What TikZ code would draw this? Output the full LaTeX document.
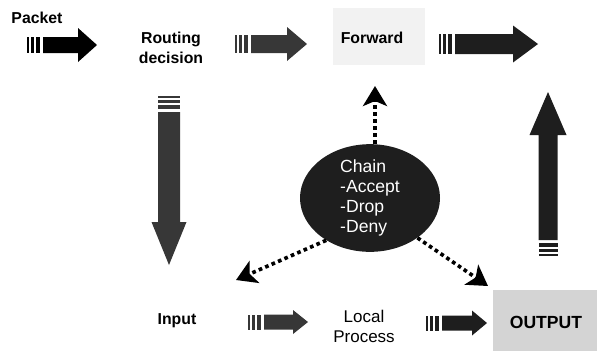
\documentclass[tikz,border=0pt]{standalone}
\usepackage{fontspec}
\setmainfont{Liberation Sans}
\usetikzlibrary{shapes.geometric,arrows.meta}

% fat block arrow with a striped tail: [colour]{start}{angle}{length}{head length}{body half}{head half}
\newcommand{\fatarrow}[7][black]{%
  \begin{scope}[shift={#2},rotate=#3]
    \fill[#1] (0,-#6) -- (#4-#5,-#6) -- (#4-#5,-#7) -- (#4,0) -- (#4-#5,#7) -- (#4-#5,#6) -- (0,#6) -- cycle;
    \foreach \a/\b in {-16/-14,-12/-9,-7/-3}
      \fill[#1] (\a,-#6) rectangle (\b,#6);
  \end{scope}}

\begin{document}
\begin{tikzpicture}[x=0.03cm,y=-0.03cm, lbl/.style={
                font=\bfseries\fontsize{13.5}{17}\selectfont,
                align=center,
                inner sep=0pt
              }, dotarrow/.style={
                line width=0.11cm,
                dash pattern=on 0.11cm off 0.1cm,
                -{Stealth[length=0.6cm,width=0.72cm,inset=0.15cm]}
              }]
    % Define colors
    \definecolor{darkgrain}{RGB}{30, 30, 30}
    \definecolor{midgrain}{RGB}{55, 55, 55}
    \definecolor{fwdback}{RGB}{242, 242, 242}
    \definecolor{outback}{RGB}{212, 212, 212}

    \useasboundingbox (0,0) rectangle (597,351);

    % shaded boxes behind the labels
    \fill[fwdback] (333,8) rectangle (425,65);
    \fill[outback] (493,290) rectangle (597,351);

    \node[lbl] (packet) at (37,18) {Packet};
    \node[lbl] (route) at (171,48) {Routing\\decision};
    \node[lbl] (fwd) at (372,38) {Forward};
    \node[lbl] (input) at (177,321) {Input};
    \node[align=center, inner sep=0pt, font=\fontsize{14.5}{17}\selectfont] (local) at (364,326) {Local\\Process};
    \node[lbl, font=\bfseries\fontsize{15}{17}\selectfont] (output) at (546,322) {OUTPUT};

    % block arrows
    \fatarrow{(43,45)}{0}{54}{19}{8}{17}
    \fatarrow[midgrain]{(251,44)}{0}{56}{20}{9}{17}
    \fatarrow[darkgrain]{(455,44)}{0}{83}{25}{10}{18.5}
    \fatarrow[midgrain]{(169,112)}{-90}{153}{43}{11}{17.5}
    \fatarrow[darkgrain]{(548,240)}{90}{148}{43}{9.5}{18.5}
    \fatarrow[midgrain]{(264,322)}{0}{44}{15}{7.5}{12}
    \fatarrow[darkgrain]{(442,323)}{0}{45}{15}{7.5}{12.5}

    \node[ellipse, fill=darkgrain, text=white, minimum width=4.2cm, minimum height=2.7cm,
          inner sep=0pt, align=left, font=\fontsize{15}{17}\selectfont] (chain) at (370,198)
          {Chain\\-Accept\\-Drop\\-Deny};

    \coordinate (fwdtip) at (375,86);
    \coordinate (intip) at (236,280);
    \coordinate (outtip) at (488,286);

    \draw[dotarrow] (chain.north -| fwdtip) -- (fwdtip);
    \draw[dotarrow] (chain.-136) -- (intip);
    \draw[dotarrow] (chain.-40) -- (outtip);

\end{tikzpicture}
\end{document}
